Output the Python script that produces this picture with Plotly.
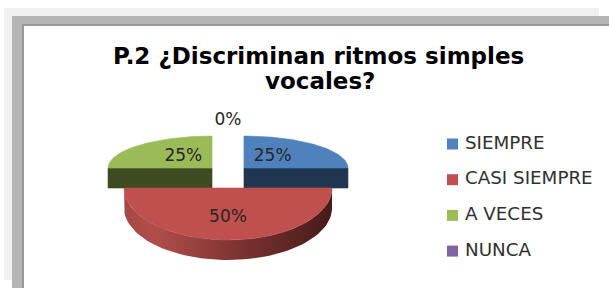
import math
import plotly.graph_objects as go

# ---- data ----
categories = ["SIEMPRE", "CASI SIEMPRE", "A VECES", "NUNCA"]
values = [25, 50, 25, 0]
title_lines = ["P.2 ¿Discriminan ritmos simples", "vocales?"]

# ---- style ----
top_colors = ["#4F81BD", "#C0504D", "#9BBB59", "#8064A2"]
side_colors = ["#1F3550", "#6E2B29", "#3E4B22", "#3F3051"]
red_side_scale = [[0, "#A64846"], [0.15, "#B04E4B"], [0.55, "#7C3331"], [1, "#461B1A"]]
label_font = dict(family="DejaVu Sans", size=17, color="#262626")

W, H = 609, 288
CX, CY = 228, 176.3      # nominal pie centre (pixels)
A = 104                  # horizontal radius
B_BACK, B_FRONT = 32, 52 # vertical radii (back / front half, perspective)
DEPTH = 20
KX, KY = 22.6, 11.7      # explosion
FX = 0.39                # label placement
FY_BACK, FY_FRONT = 0.5, 0.57

total = sum(values)

def pt(theta, cx, cy):
    t = math.radians(theta)
    u, v = math.sin(t), -math.cos(t)
    b = B_FRONT if v > 0 else B_BACK
    return cx + A * u, cy + b * v

def arc(t0, t1, cx, cy, n=60):
    xs, ys = [], []
    for k in range(n + 1):
        x, y = pt(t0 + (t1 - t0) * k / n, cx, cy)
        xs.append(x); ys.append(y)
    return xs, ys

fig = go.Figure()

def poly(xs, ys, color, **kw):
    fig.add_trace(go.Scatter(x=xs + [xs[0]], y=ys + [ys[0]], mode="lines", fill="toself",
                             fillcolor=color, line=dict(color=color, width=0.6),
                             hoverinfo="skip", showlegend=False, **kw))

# slice geometry
slices = []
start = 0.0
for i, v in enumerate(values):
    sweep = 360.0 * v / total
    end = start + sweep
    mid = (start + end) / 2
    m = math.radians(mid)
    cx = CX + KX * math.sin(m)
    cy = CY - KY * math.cos(m)
    slices.append(dict(i=i, start=start, end=end, mid=mid, cx=cx, cy=cy, v=v))
    start = end

order = sorted([s for s in slices if s["v"] > 0], key=lambda s: -math.cos(math.radians(s["mid"])))

for s in order:
    i, t0, t1, cx, cy = s["i"], s["start"], s["end"], s["cx"], s["cy"]
    # radial faces
    for ang, is_start in ((t0, True), (t1, False)):
        sn = math.sin(math.radians(ang))
        visible = (sn < -1e-6) if is_start else (sn > 1e-6)
        if visible:
            ex, ey = pt(ang, cx, cy)
            poly([cx, ex, ex, cx], [cy, ey, ey + DEPTH, cy + DEPTH], side_colors[i])
    # curved outer side (front half only)
    a0, a1 = max(t0, 90), min(t1, 270)
    if a1 > a0:
        xs, ys = arc(a0, a1, cx, cy)
        sx = xs + xs[::-1]
        sy = ys + [y + DEPTH for y in ys[::-1]]
        if i == 1:
            fig.add_trace(go.Scatter(x=sx + [sx[0]], y=sy + [sy[0]], mode="lines", fill="toself",
                                     fillgradient=dict(type="horizontal", colorscale=red_side_scale),
                                     line=dict(width=0), hoverinfo="skip", showlegend=False))
        else:
            poly(sx, sy, side_colors[i])
    # top face
    xs, ys = arc(t0, t1, cx, cy)
    poly([cx] + xs, [cy] + ys, top_colors[i])

# data labels
lx, ly, lt = [], [], []
for s in slices:
    m = math.radians(s["mid"])
    pct = f"{round(100 * s['v'] / total)}%"
    if s["v"] > 0:
        front = -math.cos(m) > 0
        b = B_FRONT if front else B_BACK
        fy = FY_FRONT if front else FY_BACK
        lx.append(s["cx"] + FX * A * math.sin(m))
        ly.append(s["cy"] - fy * b * math.cos(m))
    else:
        lx.append(s["cx"])
        ly.append(s["cy"] - 1.36 * B_BACK * math.cos(m))
    lt.append(pct)
fig.add_trace(go.Scatter(x=lx, y=ly, text=lt, mode="text", textposition="middle center",
                         textfont=label_font, hoverinfo="skip", showlegend=False))

# legend (manual)
leg_y = [144 + k * 35.7 for k in range(len(categories))]
fig.add_trace(go.Scatter(x=[452.5] * len(categories), y=leg_y, mode="markers",
                         marker=dict(symbol="square", size=11, color=top_colors, line=dict(width=0)),
                         hoverinfo="skip", showlegend=False))
fig.add_trace(go.Scatter(x=[465] * len(categories), y=leg_y, mode="text",
                         text=categories, textposition="middle right",
                         textfont=dict(family="DejaVu Sans", size=18.3, color="#303030"),
                         hoverinfo="skip", showlegend=False))

# frame
shapes = [
    dict(type="rect", x0=4, x1=599, y0=8, y1=280, fillcolor="#F0F0F0", line=dict(width=0), layer="below"),
    dict(type="rect", x0=12, x1=W, y0=16, y1=H, fillcolor="#B5B5B5", line=dict(width=0), layer="below"),
    dict(type="rect", x0=22, x1=W, y0=24, y1=H, fillcolor="#979797", line=dict(width=0), layer="below"),
    dict(type="rect", x0=24, x1=W, y0=26, y1=H, fillcolor="#FFFFFF", line=dict(width=0), layer="below"),
]

annotations = [
    dict(x=318, y=55.5, text=title_lines[0], showarrow=False, xanchor="center", yanchor="middle",
         font=dict(family="DejaVu Sans", size=23, color="#000000", weight="bold")),
    dict(x=320, y=80.5, text=title_lines[1], showarrow=False, xanchor="center", yanchor="middle",
         font=dict(family="DejaVu Sans", size=23, color="#000000", weight="bold")),
]

fig.update_layout(
    width=W, height=H, margin=dict(l=0, r=0, t=0, b=0),
    paper_bgcolor="#FFFFFF", plot_bgcolor="rgba(0,0,0,0)",
    xaxis=dict(range=[0, W], visible=False, fixedrange=True),
    yaxis=dict(range=[H, 0], visible=False, fixedrange=True),
    shapes=shapes, annotations=annotations, showlegend=False,
)

fig.write_html("out.html", config={"displayModeBar": False})

# remove the browser's default page margin so the figure fills the window
with open("out.html", "r", encoding="utf-8") as f:
    html = f.read()
html = html.replace("<head>", "<head><style>html,body{margin:0;padding:0;overflow:hidden;}</style>", 1)
with open("out.html", "w", encoding="utf-8") as f:
    f.write(html)
